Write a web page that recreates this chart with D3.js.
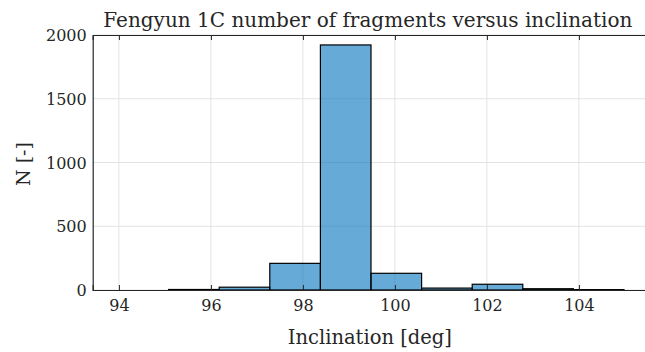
<!DOCTYPE html>
<html>
<head>
<meta charset="utf-8">
<script src="https://cdn.jsdelivr.net/npm/d3@7"></script>
<style>
body{margin:0;background:#fff;}
text{font-family:"DejaVu Serif",serif;fill:#262626;}
</style>
</head>
<body>
<svg id="hist" width="645" height="352"></svg>
<script>
// bin edges (deg) and counts
var binEdges = [95.08, 96.18, 97.28, 98.38, 99.48, 100.58, 101.68, 102.78, 103.88, 104.98];
var counts = [4, 22, 209, 1922, 131, 15, 45, 10, 3];
var xTicks = [94, 96, 98, 100, 102, 104];
var yTicks = [0, 500, 1000, 1500, 2000];

var svg = d3.select("svg#hist");
var plotL = 92.7, plotR = 647, plotT = 35, plotB = 290;

var x = d3.scaleLinear().domain([93.43, 105.48]).range([plotL, plotR]);
var y = d3.scaleLinear().domain([0, 2000]).range([plotB, plotT]);

//grid
var grid = svg.append("g").attr("stroke","#e3e3e3").attr("stroke-width",1);
grid.selectAll("line.gx").data(xTicks).enter().append("line")
	.attr("x1",function(d){return x(d);}).attr("x2",function(d){return x(d);})
	.attr("y1",plotT).attr("y2",plotB);
grid.selectAll("line.gy").data(yTicks).enter().append("line")
	.attr("y1",function(d){return y(d);}).attr("y2",function(d){return y(d);})
	.attr("x1",plotL).attr("x2",plotR);

//bars
var bins = counts.map(function(c,i){return {x0:binEdges[i],x1:binEdges[i+1],n:c};});
svg.append("g").selectAll("rect").data(bins).enter().append("rect")
	.attr("x",function(d){return x(d.x0);})
	.attr("width",function(d){return x(d.x1)-x(d.x0);})
	.attr("y",function(d){return y(d.n);})
	.attr("height",function(d){return y(0)-y(d.n);})
	.attr("fill","#0072BD").attr("fill-opacity",0.6)
	.attr("stroke","#000").attr("stroke-width",1.2);

//axes, ticks inside like matlab
var xAxis = svg.append("g").attr("transform","translate(0,"+plotB+")")
	.call(d3.axisBottom(x).tickValues(xTicks).tickSize(-5).tickPadding(10).tickFormat(d3.format("d")));
var xTop = svg.append("g").attr("transform","translate(0,"+plotT+")")
	.call(d3.axisTop(x).tickValues(xTicks).tickSize(-5).tickFormat(""));
var yAxis = svg.append("g").attr("transform","translate("+plotL+",0)")
	.call(d3.axisLeft(y).tickValues(yTicks).tickSize(0).tickPadding(6).tickFormat(d3.format("d")));
[xAxis,xTop,yAxis].forEach(function(a){
	a.selectAll("path").attr("stroke","#262626").attr("stroke-width",1.2);
	a.selectAll("line").attr("stroke","#262626").attr("stroke-width",1);
	a.selectAll("text").style("font-size","16px").attr("fill","#262626");
});
xAxis.selectAll("text").attr("dy","0.71em");
yAxis.selectAll("text").attr("dy","0.35em");

//labels
svg.append("text").attr("x",(plotL+plotR)/2-2).attr("y",27)
	.attr("text-anchor","middle").style("font-size","20px")
	.text("Fengyun 1C number of fragments versus inclination");
svg.append("text").attr("x",(plotL+plotR)/2).attr("y",344)
	.attr("text-anchor","middle").style("font-size","19.5px")
	.text("Inclination [deg]");
svg.append("text").attr("transform","translate(30,164) rotate(-90)")
	.attr("text-anchor","middle").style("font-size","19px")
	.text("N [-]");
</script>
</body>
</html>
